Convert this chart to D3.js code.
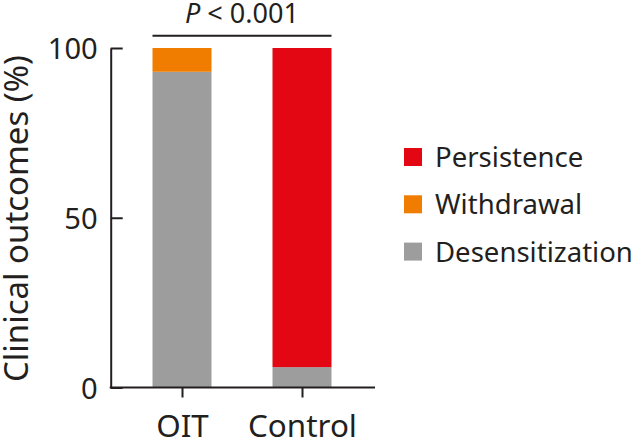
<!DOCTYPE html>
<html><head><meta charset="utf-8">
<script src="https://cdn.jsdelivr.net/npm/d3@7"></script>
<style>body{margin:0;background:#fff}svg{display:block}text{font-family:"Noto Sans",sans-serif;fill:#231f20}</style>
</head><body><svg id="c" width="636" height="441"></svg>
<script>
const categories = ["OIT", "Control"];
const seriesNames = ["Desensitization", "Withdrawal", "Persistence"];
const desensitization = [93, 6];
const withdrawal = [7, 0];
const persistence = [0, 94];
const yTicks = [0, 50, 100];
const legendOrder = ["Persistence", "Withdrawal", "Desensitization"];
const colors = {Desensitization: "#9d9d9d", Withdrawal: "#f07d00", Persistence: "#e30613"};
const pLabel = ["P", " < 0.001"];

const svg = d3.select("#c");
const ink = "#231f20";

function fit(sel, w) {
  const n = sel.node();
  const fs = parseFloat(sel.attr("font-size"));
  const cur = n.getComputedTextLength();
  sel.attr("font-size", (fs * w / cur).toFixed(2));
  return sel.attr("font-size");
}

const y = d3.scaleLinear().domain([0, 100]).range([387.5, 48]);
const x = d3.scalePoint().domain(categories).range([182, 302]);
const barW = 59;

const rows = categories.map((c, i) => ({cat: c, Desensitization: desensitization[i], Withdrawal: withdrawal[i], Persistence: persistence[i]}));
const stacked = d3.stack().keys(seriesNames)(rows);

svg.append("g").selectAll("g").data(stacked).join("g")
  .attr("fill", d => colors[d.key])
  .selectAll("rect").data(d => d.filter(p => p[1] > p[0])).join("rect")
  .attr("x", d => x(d.data.cat) - barW / 2)
  .attr("width", barW)
  .attr("y", d => y(d[1]))
  .attr("height", d => y(d[0]) - y(d[1]));

// y axis
const ya = svg.append("g").attr("transform", "translate(110.7,0)")
  .call(d3.axisLeft(y).tickValues(yTicks).tickSize(-12).tickSizeOuter(0).tickPadding(13));
ya.select(".domain").attr("stroke", ink).attr("stroke-width", 2);
ya.selectAll(".tick line").attr("stroke", ink).attr("stroke-width", 2);
const ytl = ya.selectAll(".tick text").attr("font-size", 29).attr("fill", ink).attr("font-family", null).attr("dy", "0.36em");
const yfs = fit(ya.selectAll(".tick text").filter(d => d === 100), 50);
ytl.attr("font-size", yfs);

// x axis
const xa = svg.append("g").attr("transform", "translate(0,387.5)")
  .call(d3.axisBottom(x).tickSize(10).tickPadding(12));
xa.select(".domain").remove();
svg.append("line").attr("x1", 109.7).attr("x2", 375).attr("y1", 387.5).attr("y2", 387.5)
  .attr("stroke", ink).attr("stroke-width", 2);
xa.selectAll(".tick line").attr("stroke", ink).attr("stroke-width", 2);
const xtl = xa.selectAll(".tick text").attr("font-size", 29).attr("fill", ink).attr("font-family", null)
  .attr("y", 49.5).attr("dy", 0);
const xfs = fit(xa.selectAll(".tick text").filter(d => d === "Control"), 109);
xtl.attr("font-size", xfs);

// y title
const yt = svg.append("text").attr("transform", "translate(28,218.5) rotate(-90)")
  .attr("text-anchor", "middle").attr("font-size", 28).text("Clinical outcomes (%)");
fit(yt, 327);

// significance bracket
svg.append("line").attr("x1", x("OIT") - barW / 2).attr("x2", x("Control") + barW / 2)
  .attr("y1", 35.7).attr("y2", 35.7).attr("stroke", ink).attr("stroke-width", 2);
const pt = svg.append("text").attr("x", 242).attr("y", 23).attr("text-anchor", "middle").attr("font-size", 25);
pt.append("tspan").attr("font-style", "italic").text(pLabel[0]);
pt.append("tspan").text(pLabel[1]);
fit(pt, 114);

// legend
const lg = svg.append("g").selectAll("g").data(legendOrder).join("g")
  .attr("transform", (d, i) => `translate(404,${157 + i * 47.3})`);
lg.append("rect").attr("x", 0).attr("y", -9).attr("width", 18).attr("height", 18).attr("fill", d => colors[d]);
const lt = lg.append("text").attr("x", 31).attr("dy", "0.36em").attr("font-size", 26).text(d => d);
const lfs = fit(d3.select(lt.nodes()[2]), 198);
lt.attr("font-size", lfs);
</script></body></html>
